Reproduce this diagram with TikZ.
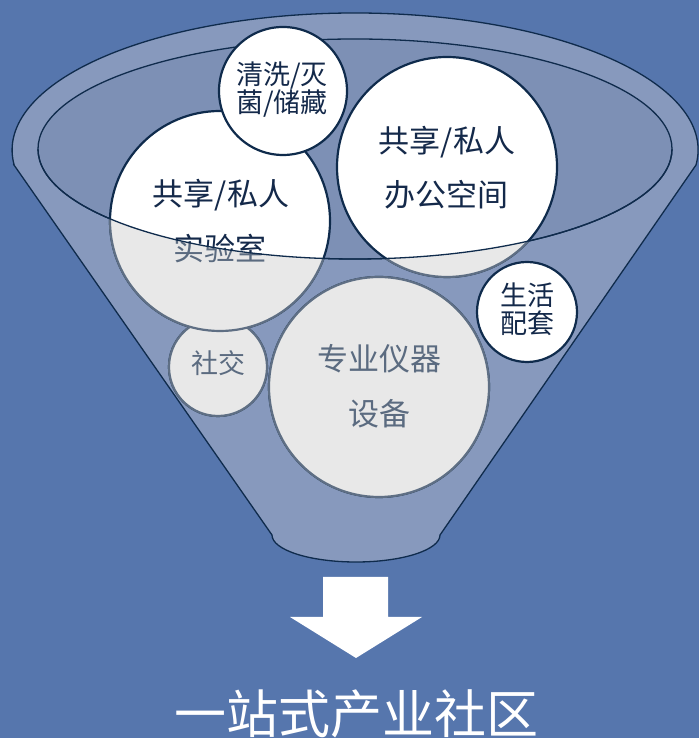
\documentclass[tikz,border=0pt]{standalone}
\usepackage{fontspec}
\newfontfamily\cjk{Noto Sans CJK SC}
\definecolor{bg}{HTML}{5676AD}
\definecolor{ring}{HTML}{8799BD}
\definecolor{innerc}{HTML}{7D90B5}
\definecolor{navy}{HTML}{0F2B4C}
\definecolor{txtnavy}{HTML}{14294A}
\definecolor{grayfill}{HTML}{E8E8E8}
\definecolor{grayline}{HTML}{5F6F84}
\definecolor{graytxt}{HTML}{5B6B80}
\begin{document}
\begin{tikzpicture}[x=1pt,y=1pt,
  bubble/.style={circle, inner sep=0pt, fill=white, draw=navy, line width=2.2pt},
  gbubble/.style={circle, inner sep=0pt, fill=grayfill, draw=grayline, line width=2.2pt},
  big/.style={inner sep=0pt, font=\cjk\fontsize{31}{31}\selectfont, text height=27pt, text depth=4pt, anchor=center},
  small/.style={inner sep=0pt, font=\cjk\fontsize{27}{27}\selectfont, text height=24pt, text depth=3pt, anchor=center},
  titletxt/.style={inner sep=0pt, font=\cjk\fontsize{52}{52}\selectfont, text height=46pt, text depth=6pt, anchor=center, text=white},
  funnelline/.style={draw=navy, line width=1.3pt}]
\useasboundingbox (0,0) rectangle (699,738);
\fill[bg] (0,0) rectangle (699,738);
% funnel body
\filldraw[fill=ring, funnelline] (14,573) -- (272,203)
  arc[start angle=180, end angle=360, x radius=84, y radius=27]
  -- (696,573)
  arc[start angle=-6.29, end angle=186.29, x radius=343, y radius=137] -- cycle;
% inner ellipse
\filldraw[fill=innerc, funnelline] (355,589) ellipse[x radius=317, y radius=110];
% bubbles behind the front face
\node[bubble, minimum size=98pt] (social) at (218,371) {};
\node[bubble, minimum size=220pt] (lab) at (220,517) {};
\node[bubble, minimum size=220pt] (office) at (447,571) {};
\node[bubble, minimum size=220pt] (equip) at (379,351) {};
\node[big, text=txtnavy] (lab1) at (221,544) {共享/私人};
\node[big, text=txtnavy] (lab2) at (220,489) {实验室};
\node[big, text=txtnavy] (off1) at (447,597) {共享/私人};
\node[big, text=txtnavy] (off2) at (446,543) {办公空间};
% front face (below inner ellipse)
\begin{scope}
  \clip (38,589) arc[start angle=180, end angle=360, x radius=317, y radius=110] -- (672,0) -- (38,0) -- cycle;
  \node[gbubble, minimum size=98pt] (socialg) at (218,371) {};
  \node[gbubble, minimum size=220pt] (labg) at (220,517) {};
  \node[gbubble, minimum size=220pt] (officeg) at (447,571) {};
  \node[gbubble, minimum size=220pt] (equipg) at (379,351) {};
  \node[big, text=graytxt] (lab2g) at (220,489) {实验室};
  \node[small, text=graytxt] (soc) at (218,375) {社交};
  \node[big, text=graytxt] (eq1) at (379,379) {专业仪器};
  \node[big, text=graytxt] (eq2) at (379,324) {设备};
\end{scope}
\draw[funnelline] (38,589) arc[start angle=180, end angle=360, x radius=317, y radius=110];
% front bubbles
\node[bubble, minimum size=128pt] (clean) at (283,647) {};
\node[small, text=txtnavy] (cl1) at (282,664) {清洗/灭};
\node[small, text=txtnavy] (cl2) at (282,636) {菌/储藏};
\node[bubble, minimum size=100pt] (life) at (527,426) {};
\node[small, text=txtnavy] (li1) at (527,443) {生活};
\node[small, text=txtnavy] (li2) at (527,415) {配套};
% arrow
\fill[white] (323,161) -- (388,161) -- (388,121) -- (422,121) -- (356,80) -- (290,121) -- (323,121) -- cycle;
% title
\node[titletxt] (title) at (356,25) {一站式产业社区};
\end{tikzpicture}
\end{document}
